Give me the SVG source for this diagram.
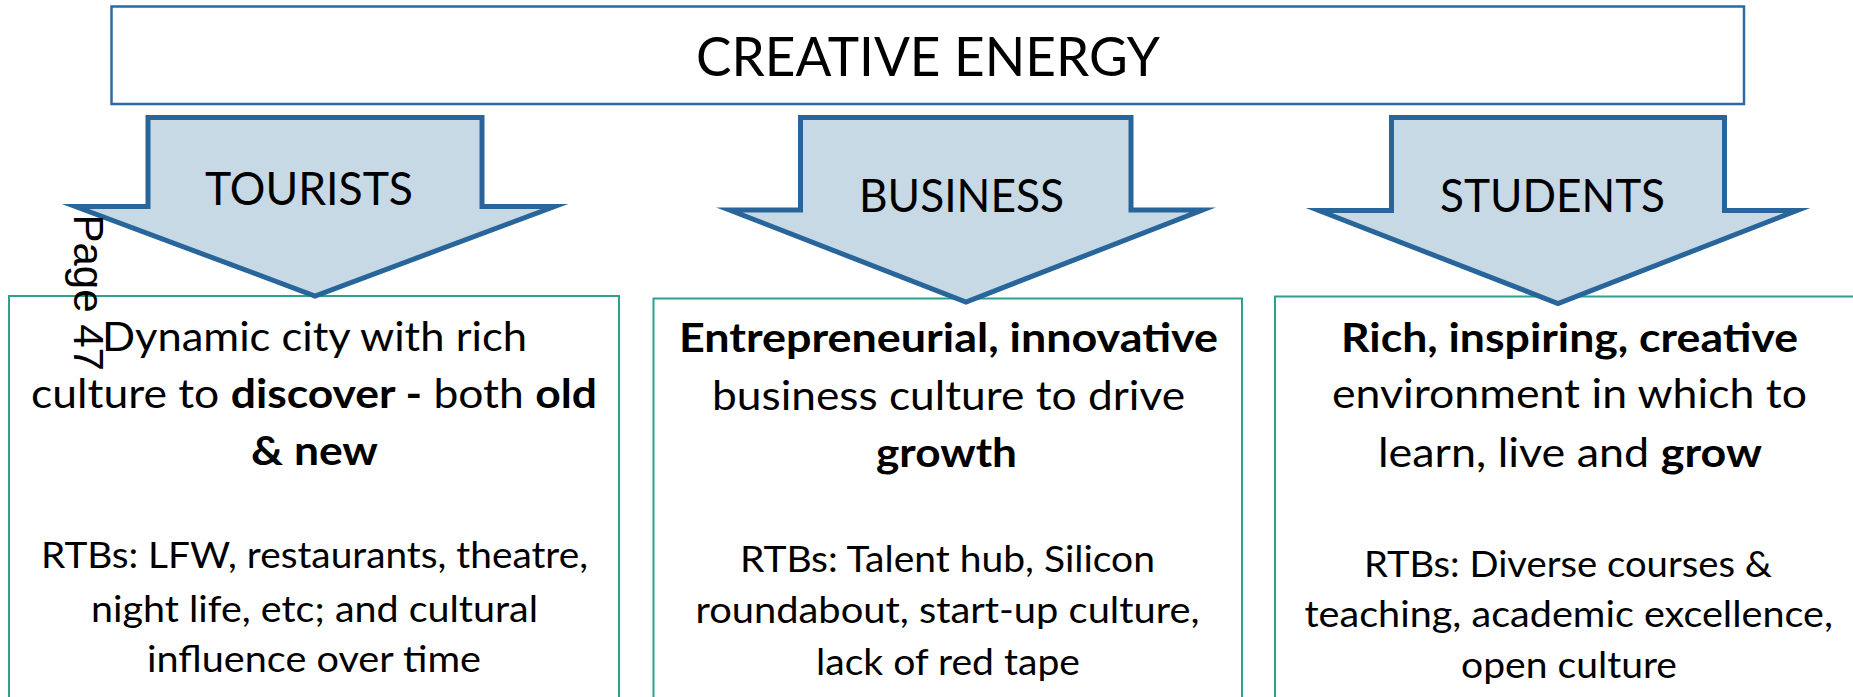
<svg xmlns="http://www.w3.org/2000/svg" width="1853" height="697" viewBox="0 0 1853 697">
  <style>
    .txt { font-family: Lato, "Open Sans", "Liberation Sans", sans-serif; fill: #000; }
    .title { font-size: 54px; }
    .label { font-size: 46px; }
    .lead { font-size: 41px; }
    .rtb { font-size: 37px; }
    .b { font-weight: 700; }
    .head { fill: #ffffff; stroke: #2c69a0; stroke-width: 2.5; }
    .arrow { fill: #c8d9e6; stroke: #28659a; stroke-width: 5; stroke-linejoin: miter; stroke-miterlimit: 12; }
    .panel { fill: #ffffff; stroke: #2f9f8e; stroke-width: 2; }
    .page { font-family: "Liberation Sans", Arial, sans-serif; font-size: 42px; fill: #000; }
  </style>

  <!-- header banner -->
  <g id="creative-energy">
    <rect class="head" x="111.5" y="6.5" width="1632.5" height="97.5"/>
    <text class="txt title" x="696" y="76" textLength="464" lengthAdjust="spacingAndGlyphs">CREATIVE ENERGY</text>
  </g>

  <!-- audience panels -->
  <g id="panel-tourists">
    <rect class="panel" x="9" y="296" width="610" height="430"/>
    <text class="txt lead" x="102" y="351" textLength="425" lengthAdjust="spacingAndGlyphs">Dynamic city with rich</text>
    <text class="txt lead" x="31" y="408" textLength="566" lengthAdjust="spacingAndGlyphs">culture to <tspan class="b">discover -</tspan> both <tspan class="b">old</tspan></text>
    <text class="txt lead b" x="251" y="465" textLength="127" lengthAdjust="spacingAndGlyphs">&amp; new</text>
    <text class="txt rtb" x="41" y="568" textLength="547" lengthAdjust="spacingAndGlyphs">RTBs: LFW, restaurants, theatre,</text>
    <text class="txt rtb" x="91" y="622" textLength="447" lengthAdjust="spacingAndGlyphs">night life, etc; and cultural</text>
    <text class="txt rtb" x="147" y="672" textLength="334" lengthAdjust="spacingAndGlyphs">influence over time</text>
  </g>

  <g id="panel-business">
    <rect class="panel" x="653.5" y="298.5" width="588.5" height="430"/>
    <text class="txt lead b" x="679" y="352" textLength="539" lengthAdjust="spacingAndGlyphs">Entrepreneurial, innovative</text>
    <text class="txt lead" x="712" y="410" textLength="473" lengthAdjust="spacingAndGlyphs">business culture to drive</text>
    <text class="txt lead b" x="876" y="467" textLength="141" lengthAdjust="spacingAndGlyphs">growth</text>
    <text class="txt rtb" x="740" y="572" textLength="415" lengthAdjust="spacingAndGlyphs">RTBs: Talent hub, Silicon</text>
    <text class="txt rtb" x="695.5" y="623" textLength="504" lengthAdjust="spacingAndGlyphs">roundabout, start-up culture,</text>
    <text class="txt rtb" x="816" y="675" textLength="264" lengthAdjust="spacingAndGlyphs">lack of red tape</text>
  </g>

  <g id="panel-students">
    <rect class="panel" x="1275" y="296.5" width="620" height="430"/>
    <text class="txt lead b" x="1341" y="352" textLength="457" lengthAdjust="spacingAndGlyphs">Rich, inspiring, creative</text>
    <text class="txt lead" x="1332" y="408" textLength="475" lengthAdjust="spacingAndGlyphs">environment in which to</text>
    <text class="txt lead" x="1378" y="467" textLength="384" lengthAdjust="spacingAndGlyphs">learn, live and <tspan class="b">grow</tspan></text>
    <text class="txt rtb" x="1364" y="577" textLength="408" lengthAdjust="spacingAndGlyphs">RTBs: Diverse courses &amp;</text>
    <text class="txt rtb" x="1304.5" y="627" textLength="528.5" lengthAdjust="spacingAndGlyphs">teaching, academic excellence,</text>
    <text class="txt rtb" x="1461" y="678" textLength="216" lengthAdjust="spacingAndGlyphs">open culture</text>
  </g>

  <!-- block arrows from the banner into each panel -->
  <g id="connectors">
    <g id="arrow-tourists">
      <polygon class="arrow" points="148,117.5 482,117.5 482,206.5 554.5,206.5 315,296 75.5,206.5 148,206.5"/>
      <text class="txt label" x="205" y="205" textLength="208" lengthAdjust="spacingAndGlyphs">TOURISTS</text>
    </g>
    <g id="arrow-business">
      <polygon class="arrow" points="800.5,117.5 1131,117.5 1131,210 1202.5,210 966,302 729.5,210 800.5,210"/>
      <text class="txt label" x="859" y="212" textLength="205" lengthAdjust="spacingAndGlyphs">BUSINESS</text>
    </g>
    <g id="arrow-students">
      <polygon class="arrow" points="1391.5,117.5 1724.5,117.5 1724.5,210.5 1797,210.5 1558,303.5 1319,210.5 1391.5,210.5"/>
      <text class="txt label" x="1440" y="212" textLength="225" lengthAdjust="spacingAndGlyphs">STUDENTS</text>
    </g>
  </g>

  <!-- page number, set sideways -->
  <g id="page-number">
    <text class="page" transform="translate(73.5,214.5) rotate(90)" x="0" y="0">Page 47</text>
  </g>
</svg>
